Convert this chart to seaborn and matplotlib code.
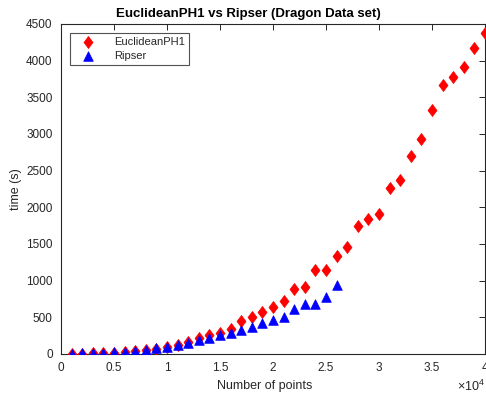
import matplotlib
matplotlib.use("Agg")
import matplotlib.pyplot as plt
from matplotlib.path import Path
import seaborn as sns
import pandas as pd

# Number of points in each sample of the Dragon data set
n_points_ph1 = [1000, 2000, 3000, 4000, 5000, 6000, 7000, 8000, 9000, 10000,
                11000, 12000, 13000, 14000, 15000, 16000, 17000, 18000, 19000, 20000,
                21000, 22000, 23000, 24000, 25000, 26000, 27000, 28000, 29000, 30000,
                31000, 32000, 33000, 34000, 35000, 36000, 37000, 38000, 39000, 40000]
# Running time (s) of EuclideanPH1
time_ph1 = [3, 5, 8, 12, 18, 27, 38, 52, 70, 92,
            125, 165, 220, 265, 290, 345, 455, 505, 575, 645,
            725, 890, 915, 1150, 1140, 1330, 1465, 1750, 1845, 1910,
            2270, 2375, 2705, 2935, 3330, 3670, 3780, 3915, 4170, 4380]

n_points_ripser = [1000, 2000, 3000, 4000, 5000, 6000, 7000, 8000, 9000, 10000,
                   11000, 12000, 13000, 14000, 15000, 16000, 17000, 18000, 19000, 20000,
                   21000, 22000, 23000, 24000, 25000, 26000]
# Running time (s) of Ripser
time_ripser = [5, 8, 12, 17, 24, 33, 45, 60, 78, 98,
               120, 150, 190, 225, 260, 290, 330, 370, 425, 465,
               510, 610, 685, 680, 780, 935]

x_ticks = [0, 5000, 10000, 15000, 20000, 25000, 30000, 35000, 40000]
x_tick_labels = ["0", "0.5", "1", "1.5", "2", "2.5", "3", "3.5", "4"]
y_ticks = [0, 500, 1000, 1500, 2000, 2500, 3000, 3500, 4000, 4500]

sns.set_style("white")
plt.rcParams["font.family"] = ["Liberation Sans", "DejaVu Sans"]
plt.rcParams["mathtext.fontset"] = "custom"
plt.rcParams["mathtext.rm"] = "Liberation Sans"
plt.rcParams["mathtext.it"] = "Liberation Sans:italic"

dark = "#262626"
fig = plt.figure(figsize=(4.86, 3.96), dpi=100)
ax = fig.add_axes([61 / 486, 1 - 354 / 396, 424 / 486, 330 / 396])

# Tall diamond marker
diamond = Path([(0, 1), (0.75, 0), (0, -1), (-0.75, 0), (0, 1)],
               [Path.MOVETO, Path.LINETO, Path.LINETO, Path.LINETO, Path.CLOSEPOLY])

df_ph1 = pd.DataFrame({"n": n_points_ph1, "t": time_ph1})
df_rip = pd.DataFrame({"n": n_points_ripser, "t": time_ripser})

sns.scatterplot(data=df_ph1, x="n", y="t", ax=ax, marker=diamond, s=75,
                color="#ff0000", edgecolor="#ff0000", linewidth=0.5,
                label="EuclideanPH1", zorder=3)
sns.scatterplot(data=df_rip, x="n", y="t", ax=ax, marker="^", s=48,
                color="#0000ff", edgecolor="#0000ff", linewidth=0.5,
                label="Ripser", zorder=4)

ax.set_xlim(0, 40000)
ax.set_ylim(0, 4500)
ax.set_xticks(x_ticks)
ax.set_xticklabels(x_tick_labels)
ax.set_yticks(y_ticks)

for side in ["top", "right", "bottom", "left"]:
    ax.spines[side].set_visible(True)
    ax.spines[side].set_color(dark)
    ax.spines[side].set_linewidth(0.8)

ax.tick_params(axis="both", direction="in", length=4, width=0.7, color=dark,
               labelcolor=dark, labelsize=8.5, top=True, right=True)
ax.tick_params(axis="y", pad=6)
ax.tick_params(axis="x", pad=6)

ax.set_xlabel("Number of points", fontsize=9, color=dark, labelpad=4, x=0.48)
ax.set_ylabel("time (s)", fontsize=9, color=dark, labelpad=3)
ax.set_title("EuclideanPH1 vs Ripser (Dragon Data set)", fontsize=9.5,
             fontweight="bold", color="black", x=0.441, pad=5)

ax.text(1.0, -0.075, r"$\times10^{4}$", transform=ax.transAxes,
        ha="right", va="top", fontsize=9, color=dark)

leg = ax.legend(loc="upper left", bbox_to_anchor=(0.021, 0.973), fontsize=8,
                frameon=True, fancybox=False, borderpad=0.35,
                handletextpad=1.0, labelspacing=0.4, borderaxespad=0,
                handlelength=2.6)
leg.get_frame().set_edgecolor(dark)
leg.get_frame().set_linewidth(0.8)
for t in leg.get_texts():
    t.set_color(dark)

fig.savefig("out.png", dpi=100)
